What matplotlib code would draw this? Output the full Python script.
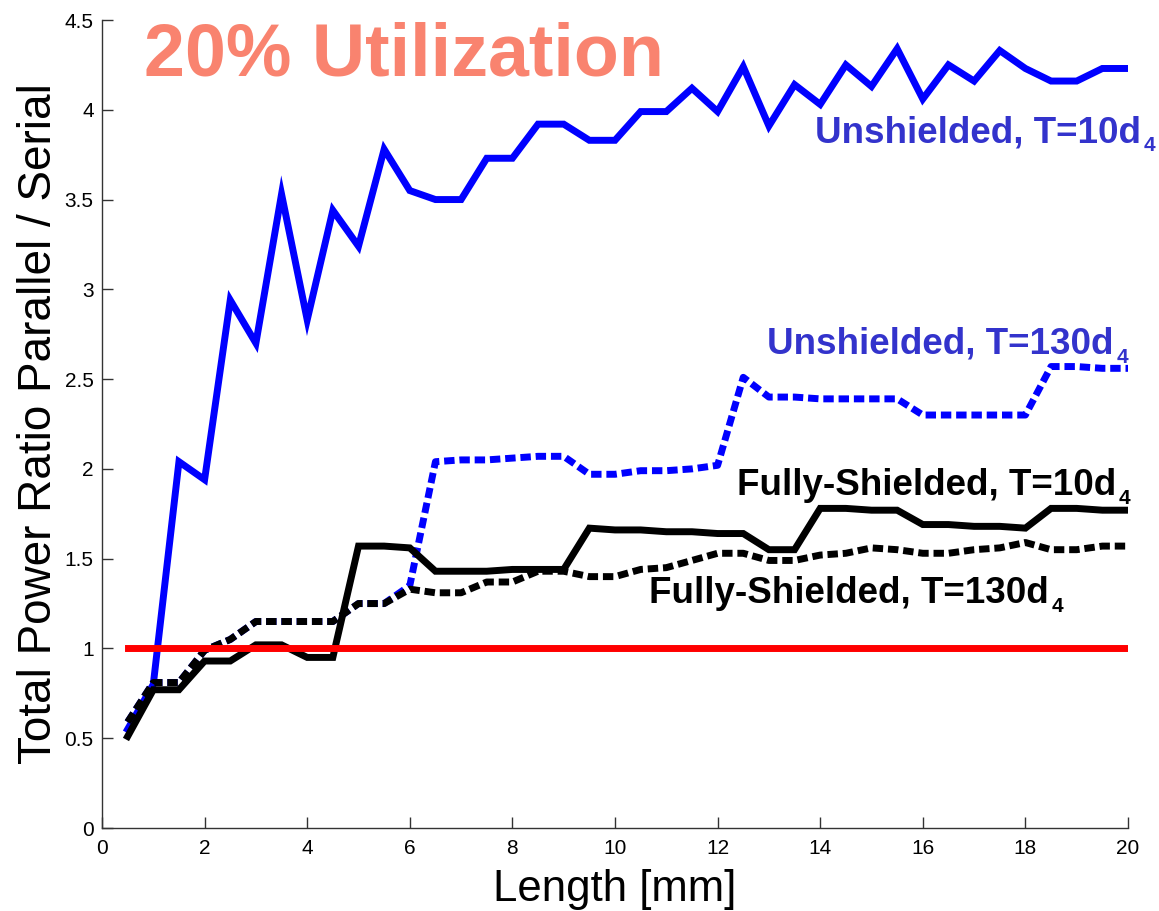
import matplotlib
matplotlib.use('Agg')
import matplotlib.pyplot as plt
from matplotlib.transforms import offset_copy

# data (length in mm, ratio parallel/serial)
length = [0.5, 1.0, 1.5, 2.0, 2.5, 3.0, 3.5, 4.0, 4.5, 5.0,
          5.5, 6.0, 6.5, 7.0, 7.5, 8.0, 8.5, 9.0, 9.5, 10.0,
          10.5, 11.0, 11.5, 12.0, 12.5, 13.0, 13.5, 14.0, 14.5, 15.0,
          15.5, 16.0, 16.5, 17.0, 17.5, 18.0, 18.5, 19.0, 19.5, 20.0]

unsh_10 = [0.55, 0.80, 2.04, 1.94, 2.94, 2.70, 3.53, 2.83, 3.44, 3.24,
           3.78, 3.55, 3.50, 3.50, 3.73, 3.73, 3.92, 3.92, 3.83, 3.83,
           3.99, 3.99, 4.12, 3.99, 4.24, 3.91, 4.14, 4.03, 4.25, 4.13,
           4.34, 4.06, 4.25, 4.16, 4.33, 4.23, 4.16, 4.16, 4.23, 4.23]

unsh_130 = [0.59, 0.81, 0.81, 0.99, 1.05, 1.15, 1.15, 1.15, 1.15, 1.25,
            1.25, 1.35, 2.04, 2.05, 2.05, 2.06, 2.07, 2.07, 1.97, 1.97,
            1.99, 1.99, 2.00, 2.02, 2.51, 2.40, 2.40, 2.39, 2.39, 2.39,
            2.39, 2.30, 2.30, 2.30, 2.30, 2.30, 2.57, 2.57, 2.56, 2.56]

fs_10 = [0.51, 0.77, 0.77, 0.93, 0.93, 1.02, 1.02, 0.95, 0.95, 1.57,
         1.57, 1.56, 1.43, 1.43, 1.43, 1.44, 1.44, 1.44, 1.67, 1.66,
         1.66, 1.65, 1.65, 1.64, 1.64, 1.55, 1.55, 1.78, 1.78, 1.77,
         1.77, 1.69, 1.69, 1.68, 1.68, 1.67, 1.78, 1.78, 1.77, 1.77]

fs_130 = [0.59, 0.81, 0.81, 0.99, 1.05, 1.15, 1.15, 1.15, 1.15, 1.25,
          1.25, 1.33, 1.31, 1.31, 1.37, 1.37, 1.43, 1.43, 1.40, 1.40,
          1.44, 1.45, 1.49, 1.53, 1.53, 1.49, 1.49, 1.52, 1.53, 1.56,
          1.55, 1.53, 1.53, 1.55, 1.56, 1.59, 1.55, 1.55, 1.57, 1.57]

ref_x = [0.5, 20.0]
ref_y = [1.0, 1.0]

xticks = [0, 2, 4, 6, 8, 10, 12, 14, 16, 18, 20]
yticks = [0, 0.5, 1, 1.5, 2, 2.5, 3, 3.5, 4, 4.5]
ytick_labels = ['0', '0.5', '1', '1.5', '2', '2.5', '3', '3.5', '4', '4.5']

# curve labels: text, subscript, right edge (x), baseline (y), colour
labels = [
    ('Unshielded, T=10d', '4', 20.53, 3.82, '#3333cc'),
    ('Unshielded, T=130d', '4', 20.0, 2.64, '#3333cc'),
    ('Fully-Shielded, T=10d', '4', 20.05, 1.854, 'black'),
    ('Fully-Shielded, T=130d', '4', 18.74, 1.251, 'black'),
]

plt.rcParams['font.family'] = ['Liberation Sans', 'DejaVu Sans']

fig = plt.figure(figsize=(11.59, 9.11), dpi=100)
ax = fig.add_axes([102 / 1159, 83 / 911, 1026 / 1159, 808 / 911])

dash = (1.5, 0.7)
ax.plot(length, unsh_10, color='#0000ff', lw=5, solid_joinstyle='miter')
ax.plot(length, unsh_130, color='#0000ff', lw=5, dashes=dash)
ax.plot(length, fs_10, color='black', lw=5, solid_joinstyle='miter')
ax.plot(length, fs_130, color='black', lw=5, dashes=dash)
ax.plot(ref_x, ref_y, color='#ff0000', lw=5)

ax.set_xlim(0, 20)
ax.set_ylim(0, 4.5)
ax.set_xticks(xticks)
ax.set_xticklabels([str(t) for t in xticks])
ax.set_yticks(yticks)
ax.set_yticklabels(ytick_labels)
ax.tick_params(direction='in', length=8, width=1, color='#333333', labelsize=15)
ax.tick_params(axis='x', pad=8)
ax.tick_params(axis='y', pad=6)

for s in ['top', 'right']:
    ax.spines[s].set_visible(False)
for s in ['left', 'bottom']:
    ax.spines[s].set_color('#333333')
    ax.spines[s].set_linewidth(1)

ax.set_xlabel('Length [mm]', fontsize=31.5)
ax.set_ylabel('Total Power Ratio Parallel / Serial', fontsize=33)
ax.xaxis.set_label_coords(0.5, -0.051)
ax.yaxis.set_label_coords(-0.0395, 0.5)

ax.text(0.82, 4.19, '20% Utilization', color='#f9836f', fontsize=53,
        fontweight='bold', ha='left', va='baseline')

renderer = fig.canvas.get_renderer()
for main, sub, x, y, c in labels:
    st = ax.text(x, y, sub, color=c, fontsize=15, fontweight='bold',
                 ha='right', va='baseline',
                 transform=offset_copy(ax.transData, fig=fig, x=0, y=-6.5, units='points'))
    w = st.get_window_extent(renderer).width * 72 / fig.dpi
    ax.text(x, y, main, color=c, fontsize=26.5, fontweight='bold',
            ha='right', va='baseline',
            transform=offset_copy(ax.transData, fig=fig, x=-(w + 2), y=0, units='points'))

fig.savefig('out.png', dpi=100)
